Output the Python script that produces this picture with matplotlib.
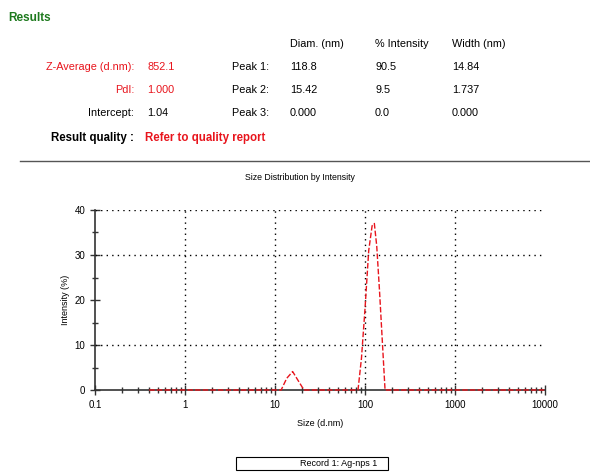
import numpy as np
import matplotlib.pyplot as plt

plt.rcParams['font.family'] = ['Liberation Sans', 'DejaVu Sans']

# size distribution by intensity
size_nm = [0.4, 1.0, 5.0, 11.7, 13.5, 15.7, 18.2, 21.0, 50.0, 83.6, 91.3, 100.0, 110.0, 120.0, 127.0, 135.0, 145.0, 167.0, 500.0, 10000.0]
intensity = [0, 0, 0, 0, 2.6, 4.1, 2.0, 0, 0, 0, 7.0, 18.0, 31.0, 36.5, 37.0, 32.0, 22.0, 0, 0, 0]

# results table
header = ["Diam. (nm)", "% Intensity", "Width (nm)"]
peak_names = ["Peak 1:", "Peak 2:", "Peak 3:"]
peak_diam = ["118.8", "15.42", "0.000"]
peak_int = ["90.5", "9.5", "0.0"]
peak_width = ["14.84", "1.737", "0.000"]
left_labels = ["Z-Average (d.nm):", "PdI:", "Intercept:"]
left_values = ["852.1", "1.000", "1.04"]
left_colors = ["#e8141c", "#e8141c", "black"]

x_ticks = [0.1, 1, 10, 100, 1000, 10000]
x_ticklabels = ["0.1", "1", "10", "100", "1000", "10000"]
y_ticks = [0, 10, 20, 30, 40]
grid_y = [10, 30, 40]
grid_x = [1, 10, 100, 1000]

W, H = 590, 474
fig = plt.figure(figsize=(5.9, 4.74), dpi=100)

def px(x, y):
    return x / W, 1 - y / H

fs = 7.8
fig.text(*px(8, 18), "Results", color="#1e7a1e", fontsize=8.5, fontweight="bold", va="center")
for t, x in zip(header, [290, 375, 452]):
    fig.text(*px(x, 44), t, fontsize=fs, va="center")
rows_y = [67, 90, 113]
for i, y in enumerate(rows_y):
    fig.text(*px(134, y), left_labels[i], fontsize=fs, color=left_colors[i], ha="right", va="center")
    fig.text(*px(147, y), left_values[i], fontsize=fs, color=left_colors[i], va="center")
    fig.text(*px(232, y), peak_names[i], fontsize=fs, va="center")
    fig.text(*px(290, y), peak_diam[i], fontsize=fs, va="center")
    fig.text(*px(375, y), peak_int[i], fontsize=fs, va="center")
    fig.text(*px(452, y), peak_width[i], fontsize=fs, va="center")
fig.text(*px(134, 138), "Result quality :", fontsize=8.3, fontweight="bold", ha="right", va="center")
fig.text(*px(145, 138), "Refer to quality report", fontsize=8.3, fontweight="bold", color="#e8141c", va="center")

line = plt.Line2D([20 / W, 1.0], [1 - 161 / H] * 2, transform=fig.transFigure, color="#555555", lw=1)
fig.add_artist(line)

fig.text(*px(300, 177), "Size Distribution by Intensity", fontsize=6.3, ha="center", va="center")

ax = fig.add_axes([95 / W, 1 - 390 / H, 450 / W, 180 / H])
ax.set_xscale("log")
ax.set_xlim(0.1, 10000)
ax.set_ylim(0, 40)
for g in grid_y:
    ax.axhline(g, color="black", ls=(0, (1, 3)), lw=1)
for g in grid_x:
    ax.axvline(g, color="black", ls=(0, (1, 3)), lw=1)
ax.plot(size_nm, intensity, color="#e8141c", lw=1, ls=(0, (4, 1.5)), clip_on=False, zorder=3)

ax.spines["top"].set_visible(False)
ax.spines["right"].set_visible(False)
for s in ["left", "bottom"]:
    ax.spines[s].set_color("#333333")
    ax.spines[s].set_linewidth(1.2)
ax.set_xticks(x_ticks)
ax.set_xticklabels(x_ticklabels)
ax.set_yticks(y_ticks)
ax.set_yticks([5, 15, 25, 35], minor=True)
ax.tick_params(which="both", direction="inout", labelsize=7, color="#333333")
ax.tick_params(which="major", length=7, width=1)
ax.tick_params(which="minor", length=5, width=1)
ax.set_xlabel("Size (d.nm)", fontsize=6.5, labelpad=7)
ax.set_ylabel("Intensity (%)", fontsize=6.5, labelpad=3)

leg = fig.text(*px(377, 464), "Record 1: Ag-nps 1", fontsize=6.5, ha="right", va="center")
rect = plt.Rectangle((236 / W, 1 - 470 / H), 152 / W, 13 / H, transform=fig.transFigure,
                     fill=False, edgecolor="black", lw=0.8)
fig.add_artist(rect)

fig.savefig("out.png", dpi=100)
